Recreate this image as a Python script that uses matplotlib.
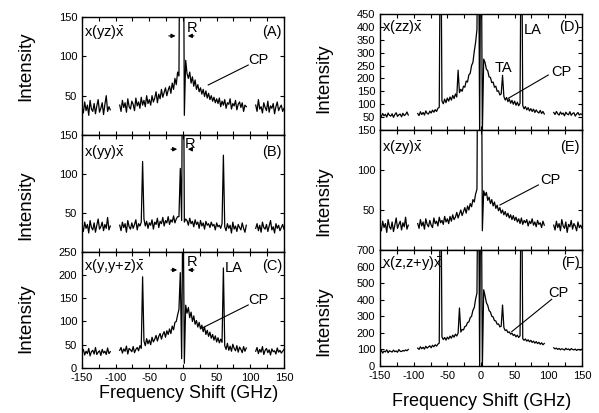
import numpy as np
import matplotlib
matplotlib.use("Agg")
import matplotlib.pyplot as plt
from matplotlib.ticker import MultipleLocator

plt.rcParams['font.family'] = ['Liberation Sans', 'DejaVu Sans']
plt.rcParams['axes.unicode_minus'] = False
plt.rcParams['mathtext.fontset'] = 'custom'
plt.rcParams['mathtext.rm'] = 'Liberation Sans'
plt.rcParams['mathtext.it'] = 'Liberation Sans'

nan = np.nan

# frequency shift grid (GHz), one sample every 2 GHz
shift = np.arange(-150, 151, 2)

# (A) x(yz)x
spec_a = [36, 28, 42, 31, 38, 25, 44, 33, 30, 40, 27, 37, 45, 29, 34, 41, 26, 39, 50, 30, 36, 32,
          nan, nan, nan, nan, nan, nan,
          38, 30, 44, 35, 41, 29, 46, 36, 33, 43, 39, 31, 47, 37, 42, 34, 48, 38, 44, 36, 50, 40,
          45, 38, 50, 42, 47, 55, 41, 52, 46, 58, 48, 54, 60, 50, 57,
          62, 53, 66, 58, 72, 64, 80,
          75, 400, 400, 400, 25, 95, 78,
          72, 80, 66, 74, 62, 70, 58,
          64, 55, 60, 52, 58, 49, 56, 47, 53, 45, 50, 43, 48, 41, 46,
          40, 47, 36, 43, 38, 45, 34, 41, 39, 46, 33, 40, 37, 44, 32, 39, 42, 35, 41, 30, 38, 36,
          nan, nan, nan, nan, nan, nan,
          38, 30, 45, 33, 36, 28, 41, 35, 31, 43, 29, 37, 34, 40, 27, 36, 42, 31, 35, 38, 30, 34]

# (B) x(yy)x
spec_b = [33, 26, 38, 30, 35, 24, 40, 31, 28, 37, 25, 34, 42, 29, 32, 38, 27, 35, 30, 44, 28, 33,
          nan, nan, nan, nan, nan, nan,
          34, 27, 38, 31, 36, 25, 40, 32, 29, 37, 30, 35, 41, 28, 36, 33, 38,
          116,
          42, 33, 39, 30, 37, 34, 41, 29, 38, 35, 43, 31, 39, 36, 44, 33, 40, 37, 45, 35, 41, 38, 46, 37, 42, 45,
          45, 107, 40, 400, 38, 42,
          40, 34, 43, 36, 39, 32, 41, 35, 38, 30, 40, 33, 37, 29, 39, 34, 36, 31, 38, 33, 35, 28, 37, 32, 34, 30, 36,
          124,
          32, 27, 36, 30, 34, 24, 38, 29, 33, 26, 35, 31, 28, 37, 30, 25, 34,
          nan, nan, nan, nan, nan, nan,
          30, 36, 27, 34, 25, 38, 31, 29, 35, 26, 33, 40, 28, 32, 24, 36, 30, 34, 27, 31, 35, 29]

# (C) x(y,y+z)x
spec_c = [33, 40, 28, 36, 31, 42, 26, 35, 38, 30, 44, 29, 34, 37, 27, 40, 32, 36, 29, 43, 31, 35,
          nan, nan, nan, nan, nan, nan,
          38, 44, 32, 41, 36, 47, 30, 42, 39, 35, 46, 33, 40, 44, 37, 48, 42,
          196,
          58, 48, 63, 52, 60, 50, 66, 56, 62, 70, 58, 68, 74, 62, 72, 78, 66, 80, 72,
          84, 74, 90, 82, 98, 100, 114,
          126, 205, 20, 400, 10, 135, 118,
          130, 108, 120, 100, 112, 94, 102, 88, 98, 84, 92, 78, 88, 72, 81, 68, 77, 64, 72, 60, 69, 56, 65, 54, 62, 55,
          215,
          48, 40, 53, 38, 47, 36, 51, 42, 37, 48, 34, 45, 40, 33, 46, 36, 43,
          nan, nan, nan, nan, nan, nan,
          36, 44, 31, 40, 34, 46, 29, 38, 42, 33, 39, 28, 41, 35, 37, 30, 43, 34, 38, 32, 36, 40]

# (D) x(zz)x
spec_d = [58, 52, 64, 55, 61, 50, 66, 57, 54, 63, 49, 60, 67, 53, 59, 62, 51, 65, 56, 60, 70, 58,
          nan, nan, nan, nan, nan, nan,
          64, 56, 71, 60, 68, 58, 74, 64, 62, 73, 66, 77, 69, 79, 72, 84, 88,
          1000,
          112, 102, 120, 106, 124, 112, 128, 116, 134, 122, 140, 128,
          232,
          145, 158, 150, 170, 166, 190, 186, 214, 220, 250, 262, 305, 340,
          390, 1000, -20, 1000, -20, 275,
          262, 236, 230, 206, 204, 184, 186, 166, 170, 150, 152, 136, 140,
          212,
          130, 116, 126, 110, 120, 104, 115, 100, 112, 96, 108, 94, 104,
          1000,
          95, 82, 91, 78, 87, 74, 83, 72, 81, 68, 78, 70, 66, 76, 64, 72, 62,
          nan, nan, nan, nan, nan, nan,
          68, 60, 72, 63, 58, 70, 61, 66, 55, 69, 62, 59, 71, 57, 64, 67, 54, 62, 68, 58, 63, 60]

# (E) x(zy)x
spec_e = [30, 24, 36, 28, 33, 22, 38, 29, 26, 35, 23, 31, 40, 27, 32, 36, 25, 34, 29, 41, 26, 31,
          nan, nan, nan, nan, nan, nan,
          33, 27, 38, 30, 35, 26, 39, 32, 29, 37, 31, 28, 40, 33, 36, 30, 41, 34, 37, 32, 42, 35,
          39, 33, 42, 36, 44, 38, 41, 47, 40, 45, 50, 43, 48, 53, 46,
          55, 50, 58, 54, 63, 60, 70,
          76, 400, 400, 400, 24, 74, 68,
          72, 62, 66, 58, 63, 55, 60,
          52, 56, 49, 53, 46, 50, 44, 48, 42, 46, 40, 44, 38, 43, 37,
          41, 35, 39, 33, 40, 32, 37, 34, 38, 30, 36, 33, 39, 31, 35, 29, 37, 32, 34, 28, 36, 31,
          nan, nan, nan, nan, nan, nan,
          31, 25, 36, 28, 33, 24, 38, 30, 27, 35, 22, 32, 29, 37, 26, 33, 30, 24, 35, 28, 31, 27]

# (F) x(z,z+y)x
spec_f = [82, 95, 78, 90, 85, 98, 80, 92, 88, 84, 96, 86, 91, 83, 99, 89, 87, 94, 90, 97, 92, 100,
          nan, nan, nan, nan, nan, nan,
          108, 100, 116, 104, 113, 102, 119, 108, 115, 122, 110, 125, 116, 128, 120, 132, 138,
          1500,
          175, 160, 172, 156, 174, 163, 180, 168, 186, 174, 192, 181, 198,
          350,
          205, 220, 218, 238, 242, 262, 266, 292, 300, 336, 352, 404,
          440, 1500, -20, 1500, -20, 460,
          424, 382, 366, 334, 326, 300, 296, 274, 272, 252, 254, 236, 240,
          368,
          232, 214, 218, 202, 206, 192, 198, 184, 190, 176, 186, 172, 182,
          1500,
          165, 155, 163, 150, 158, 146, 155, 142, 150, 138, 147, 135, 143, 131, 140, 128, 136,
          nan, nan, nan, nan, nan, nan,
          110, 103, 108, 100, 106, 98, 104, 101, 96, 107, 99, 103, 95, 105, 100, 97, 102, 94, 100, 98, 96, 101]

geometries = [r'x(yz)$\bar{\rm x}$', r'x(yy)$\bar{\rm x}$', r'x(y,y+z)$\bar{\rm x}$',
              r'x(zz)$\bar{\rm x}$', r'x(zy)$\bar{\rm x}$', r'x(z,z+y)$\bar{\rm x}$']
panel_tags = ['(A)', '(B)', '(C)', '(D)', '(E)', '(F)']
y_max = [150, 150, 250, 450, 150, 700]
y_ticks = [[50, 100, 150], [50, 100, 150], [0, 50, 100, 150, 200, 250],
           list(range(50, 451, 50)), [50, 100, 150], list(range(0, 701, 100))]
spectra = [spec_a, spec_b, spec_c, spec_d, spec_e, spec_f]

fig = plt.figure(figsize=(5.99, 4.13), dpi=100)

# axes boxes [left, bottom, width, height] in figure fraction
boxes = [[0.1369, 0.6731, 0.3372, 0.2857],
         [0.1369, 0.3906, 0.3372, 0.2826],
         [0.1369, 0.1090, 0.3372, 0.2816],
         [0.6344, 0.6852, 0.3372, 0.2809],
         [0.6344, 0.3947, 0.3372, 0.2906],
         [0.6344, 0.1138, 0.3372, 0.2809]]
ylabel_y = [0.58, 0.40, 0.43, 0.45, 0.41, 0.39]
label_y = [0.875, 0.855, 0.88, 0.89, 0.861, 0.885]

axes = []
for i in range(6):
    ax = fig.add_axes(boxes[i])
    ax.plot(shift, spectra[i], color='black', lw=0.9)
    ax.set_xlim(-150, 150)
    ax.set_ylim(0, y_max[i])
    ax.set_yticks(y_ticks[i])
    ax.set_xticks([-150, -100, -50, 0, 50, 100, 150])
    ax.xaxis.set_minor_locator(MultipleLocator(25))
    ax.tick_params(which='both', direction='in', top=True, right=True, labelsize=8, length=3, width=0.8)
    if i not in (2, 5):
        ax.tick_params(labelbottom=False)
    for s in ax.spines.values():
        s.set_linewidth(1.0)
    ax.set_ylabel('Intensity', fontsize=13.5)
    ax.yaxis.set_label_coords(-0.235, ylabel_y[i])
    ax.text(0.01, label_y[i], geometries[i], transform=ax.transAxes, fontsize=10.5, va='center', ha='left')
    ax.text(0.99, label_y[i], panel_tags[i], transform=ax.transAxes, fontsize=10.5, va='center', ha='right')
    axes.append(ax)

ax_a, ax_b, ax_c, ax_d, ax_e, ax_f = axes

# Rayleigh line markers
for ax, ya, x1, x2, x3, x4, rx, ry in [(ax_a, 0.84, 0.416, 0.477, 0.51, 0.568, 0.545, 0.91),
                                       (ax_b, 0.878, 0.427, 0.485, 0.51, 0.559, 0.535, 0.926),
                                       (ax_c, 0.843, 0.427, 0.485, 0.51, 0.568, 0.545, 0.914)]:
    ax.annotate('', xy=(x2, ya), xytext=(x1, ya), xycoords='axes fraction',
                arrowprops=dict(arrowstyle='-|>', lw=0.8, color='black', mutation_scale=6))
    ax.annotate('', xy=(x3, ya), xytext=(x4, ya), xycoords='axes fraction',
                arrowprops=dict(arrowstyle='-|>', lw=0.8, color='black', mutation_scale=6))
    ax.text(rx, ry, 'R', transform=ax.transAxes, fontsize=10.5, ha='center', va='center')

# CP pointers
for ax, tx, ty, lx1, ly1, lx2, ly2 in [(ax_a, 0.873, 0.636, 0.823, 0.593, 0.625, 0.424),
                                       (ax_c, 0.873, 0.585, 0.823, 0.542, 0.593, 0.342),
                                       (ax_d, 0.90, 0.503, 0.833, 0.474, 0.635, 0.273),
                                       (ax_e, 0.842, 0.583, 0.784, 0.542, 0.594, 0.375),
                                       (ax_f, 0.884, 0.627, 0.85, 0.575, 0.652, 0.296)]:
    ax.text(tx, ty, 'CP', transform=ax.transAxes, fontsize=10.5, ha='center', va='center')
    ax.plot([lx1, lx2], [ly1, ly2], transform=ax.transAxes, color='black', lw=0.8)

ax_c.text(0.75, 0.857, 'LA', transform=ax_c.transAxes, fontsize=10.5, ha='center', va='center')
ax_d.text(0.71, 0.86, 'LA', transform=ax_d.transAxes, fontsize=10.5, ha='left', va='center')
ax_d.text(0.61, 0.532, 'TA', transform=ax_d.transAxes, fontsize=10.5, ha='center', va='center')

fig.text(188.3 / 599, 1 - 393.3 / 413, 'Frequency Shift (GHz)', fontsize=13, ha='center', va='center')
fig.text(481.7 / 599, 1 - 401.7 / 413, 'Frequency Shift (GHz)', fontsize=13, ha='center', va='center')

fig.savefig('out.png', dpi=100)
